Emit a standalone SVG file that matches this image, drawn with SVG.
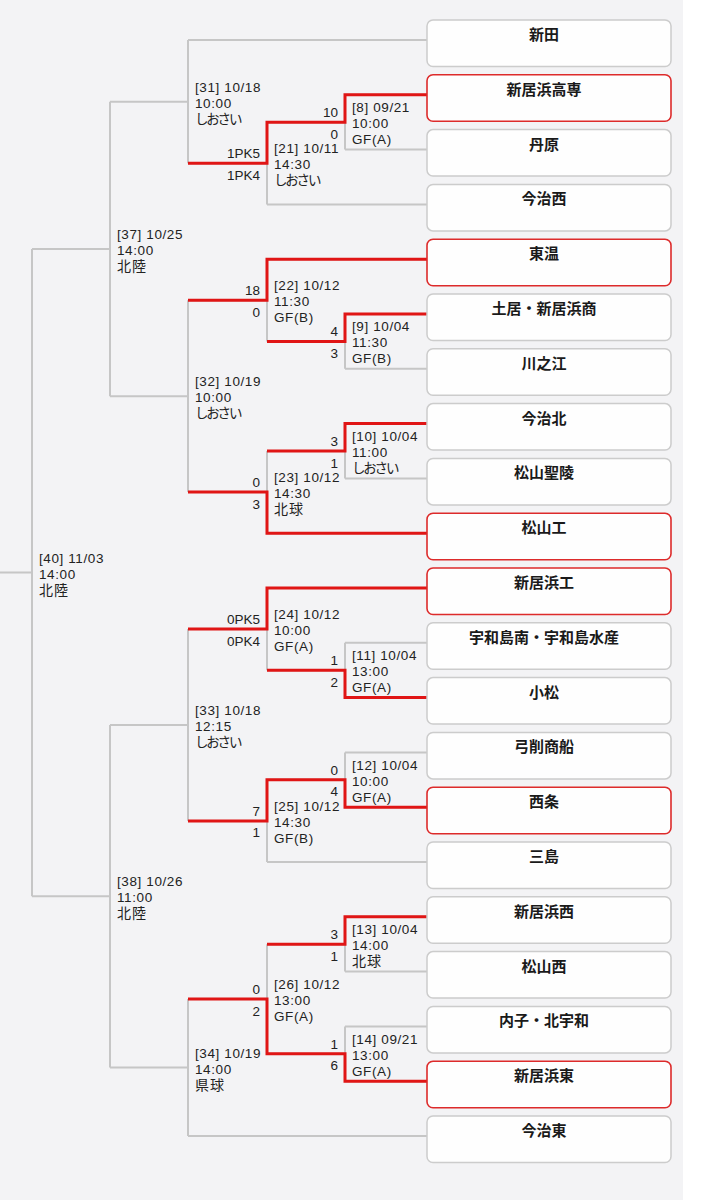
<svg xmlns="http://www.w3.org/2000/svg" width="701" height="1200" viewBox="0 0 701 1200">
<style>
.bg{fill:#f3f3f5}
.box{fill:#fefefe;stroke:#cccccc;stroke-width:1.5}
.win{fill:#fefefe;stroke:#dd2b2b;stroke-width:1.6}
.g{fill:none;stroke:#c6c6c6;stroke-width:2}
.r{fill:none;stroke:#e01515;stroke-width:3;stroke-linejoin:miter}
.nm{font-family:"Noto Sans CJK JP","Noto Sans CJK SC",sans-serif;font-size:15px;font-weight:bold;fill:#1a1a1a;text-anchor:middle}
.lb{font-family:"Liberation Sans","Noto Sans CJK JP",sans-serif;font-size:13.5px;fill:#222;letter-spacing:0.6px}
.kn{letter-spacing:-2.2px}
.kj{font-size:14px;letter-spacing:1px}
.sc{font-family:"Liberation Sans","Noto Sans CJK JP",sans-serif;font-size:13.5px;fill:#222;text-anchor:end}
</style>
<rect class="bg" x="0" y="0" width="683" height="1200"/>
<rect x="683" y="0" width="18" height="1200" fill="#ffffff"/>
<g id="connectors">
<path class="g" d="M188,40H427 M345,94.8H427 M345,149.6H427 M267,204.4H427 M267,259.2H427 M345,314H427 M345,368.8H427 M345,423.6H427 M345,478.4H427 M267,533.2H427 M267,588H427 M345,642.8H427 M345,697.6H427 M345,752.4H427 M345,807.2H427 M267,862H427 M345,916.8H427 M345,971.6H427 M345,1026.4H427 M345,1081.2H427 M188,1136H427"/>
<path class="g" d="M345,94.8V149.6 M267,122.2V204.4 M188,40V163.3 M345,314V368.8 M267,259.2V341.4 M345,423.6V478.4 M267,451V533.2 M188,300.3V492.1 M110,101.65V396.2 M345,642.8V697.6 M267,588V670.2 M345,752.4V807.2 M267,779.8V862 M188,629.1V820.9 M345,916.8V971.6 M345,1026.4V1081.2 M267,944.2V1053.8 M188,999V1136 M110,725V1067.5 M32,248.9V896.25"/>
<path class="g" d="M267,122.2H345 M188,163.3H267 M110,101.65H188 M267,341.4H345 M188,300.3H267 M267,451H345 M188,492.1H267 M110,396.2H188 M32,248.9H110 M267,670.2H345 M188,629.1H267 M267,779.8H345 M188,820.9H267 M110,725H188 M267,944.2H345 M267,1053.8H345 M188,999H267 M110,1067.5H188 M32,896.25H110 M0,572.6H32"/>
<path class="r" d="M427,94.8H345V122.2H267V163.3H188"/>
<path class="r" d="M427,259.2H267V300.3H188"/>
<path class="r" d="M427,314H345V341.4H267"/>
<path class="r" d="M427,423.6H345V451H267"/>
<path class="r" d="M427,533.2H267V492.1H188"/>
<path class="r" d="M427,588H267V629.1H188"/>
<path class="r" d="M427,697.6H345V670.2H267"/>
<path class="r" d="M427,807.2H345V779.8H267V820.9H188"/>
<path class="r" d="M427,916.8H345V944.2H267"/>
<path class="r" d="M427,1081.2H345V1053.8H267V999H188"/>
</g>
<g id="t0"><rect class="box" x="427" y="20" width="244" height="46.5" rx="6"/><text class="nm" x="544" y="40">新田</text></g>
<g id="t1"><rect class="win" x="427" y="74.8" width="244" height="46.5" rx="6"/><text class="nm" x="544" y="94.8">新居浜高専</text></g>
<g id="t2"><rect class="box" x="427" y="129.6" width="244" height="46.5" rx="6"/><text class="nm" x="544" y="149.6">丹原</text></g>
<g id="t3"><rect class="box" x="427" y="184.4" width="244" height="46.5" rx="6"/><text class="nm" x="544" y="204.4">今治西</text></g>
<g id="t4"><rect class="win" x="427" y="239.2" width="244" height="46.5" rx="6"/><text class="nm" x="544" y="259.2">東温</text></g>
<g id="t5"><rect class="box" x="427" y="294" width="244" height="46.5" rx="6"/><text class="nm" x="544" y="314">土居・新居浜商</text></g>
<g id="t6"><rect class="box" x="427" y="348.8" width="244" height="46.5" rx="6"/><text class="nm" x="544" y="368.8">川之江</text></g>
<g id="t7"><rect class="box" x="427" y="403.6" width="244" height="46.5" rx="6"/><text class="nm" x="544" y="423.6">今治北</text></g>
<g id="t8"><rect class="box" x="427" y="458.4" width="244" height="46.5" rx="6"/><text class="nm" x="544" y="478.4">松山聖陵</text></g>
<g id="t9"><rect class="win" x="427" y="513.2" width="244" height="46.5" rx="6"/><text class="nm" x="544" y="533.2">松山工</text></g>
<g id="t10"><rect class="win" x="427" y="568" width="244" height="46.5" rx="6"/><text class="nm" x="544" y="588">新居浜工</text></g>
<g id="t11"><rect class="box" x="427" y="622.8" width="244" height="46.5" rx="6"/><text class="nm" x="544" y="642.8">宇和島南・宇和島水産</text></g>
<g id="t12"><rect class="box" x="427" y="677.6" width="244" height="46.5" rx="6"/><text class="nm" x="544" y="697.6">小松</text></g>
<g id="t13"><rect class="box" x="427" y="732.4" width="244" height="46.5" rx="6"/><text class="nm" x="544" y="752.4">弓削商船</text></g>
<g id="t14"><rect class="win" x="427" y="787.2" width="244" height="46.5" rx="6"/><text class="nm" x="544" y="807.2">西条</text></g>
<g id="t15"><rect class="box" x="427" y="842" width="244" height="46.5" rx="6"/><text class="nm" x="544" y="862">三島</text></g>
<g id="t16"><rect class="box" x="427" y="896.8" width="244" height="46.5" rx="6"/><text class="nm" x="544" y="916.8">新居浜西</text></g>
<g id="t17"><rect class="box" x="427" y="951.6" width="244" height="46.5" rx="6"/><text class="nm" x="544" y="971.6">松山西</text></g>
<g id="t18"><rect class="box" x="427" y="1006.4" width="244" height="46.5" rx="6"/><text class="nm" x="544" y="1026.4">内子・北宇和</text></g>
<g id="t19"><rect class="win" x="427" y="1061.2" width="244" height="46.5" rx="6"/><text class="nm" x="544" y="1081.2">新居浜東</text></g>
<g id="t20"><rect class="box" x="427" y="1116" width="244" height="46.5" rx="6"/><text class="nm" x="544" y="1136">今治東</text></g>

<g id="m8"><text class="lb" x="352" y="112.2">[8] 09/21</text><text class="lb" x="352" y="128.2">10:00</text><text class="lb" x="352" y="144.2">GF(A)</text><text class="sc" x="338" y="117.2">10</text><text class="sc" x="338" y="138.7">0</text></g>
<g id="m21"><text class="lb" x="274" y="153.3">[21] 10/11</text><text class="lb" x="274" y="169.3">14:30</text><text class="lb kn" x="274" y="185.3">しおさい</text><text class="sc" x="260" y="158.3">1PK5</text><text class="sc" x="260" y="179.8">1PK4</text></g>
<g id="m31"><text class="lb" x="195" y="91.65">[31] 10/18</text><text class="lb" x="195" y="107.65">10:00</text><text class="lb kn" x="195" y="123.65">しおさい</text></g>
<g id="m9"><text class="lb" x="352" y="331.4">[9] 10/04</text><text class="lb" x="352" y="347.4">11:30</text><text class="lb" x="352" y="363.4">GF(B)</text><text class="sc" x="338" y="336.4">4</text><text class="sc" x="338" y="357.9">3</text></g>
<g id="m22"><text class="lb" x="274" y="290.3">[22] 10/12</text><text class="lb" x="274" y="306.3">11:30</text><text class="lb" x="274" y="322.3">GF(B)</text><text class="sc" x="260" y="295.3">18</text><text class="sc" x="260" y="316.8">0</text></g>
<g id="m10"><text class="lb" x="352" y="441">[10] 10/04</text><text class="lb" x="352" y="457">11:00</text><text class="lb kn" x="352" y="473">しおさい</text><text class="sc" x="338" y="446">3</text><text class="sc" x="338" y="467.5">1</text></g>
<g id="m23"><text class="lb" x="274" y="482.1">[23] 10/12</text><text class="lb" x="274" y="498.1">14:30</text><text class="lb kj" x="274" y="514.1">北球</text><text class="sc" x="260" y="487.1">0</text><text class="sc" x="260" y="508.6">3</text></g>
<g id="m32"><text class="lb" x="195" y="386.2">[32] 10/19</text><text class="lb" x="195" y="402.2">10:00</text><text class="lb kn" x="195" y="418.2">しおさい</text></g>
<g id="m37"><text class="lb" x="117" y="238.9">[37] 10/25</text><text class="lb" x="117" y="254.9">14:00</text><text class="lb kj" x="117" y="270.9">北陸</text></g>
<g id="m40"><text class="lb" x="39" y="562.6">[40] 11/03</text><text class="lb" x="39" y="578.6">14:00</text><text class="lb kj" x="39" y="594.6">北陸</text></g>
<g id="m24"><text class="lb" x="274" y="619.1">[24] 10/12</text><text class="lb" x="274" y="635.1">10:00</text><text class="lb" x="274" y="651.1">GF(A)</text><text class="sc" x="260" y="624.1">0PK5</text><text class="sc" x="260" y="645.6">0PK4</text></g>
<g id="m11"><text class="lb" x="352" y="660.2">[11] 10/04</text><text class="lb" x="352" y="676.2">13:00</text><text class="lb" x="352" y="692.2">GF(A)</text><text class="sc" x="338" y="665.2">1</text><text class="sc" x="338" y="686.7">2</text></g>
<g id="m33"><text class="lb" x="195" y="715">[33] 10/18</text><text class="lb" x="195" y="731">12:15</text><text class="lb kn" x="195" y="747">しおさい</text></g>
<g id="m12"><text class="lb" x="352" y="769.8">[12] 10/04</text><text class="lb" x="352" y="785.8">10:00</text><text class="lb" x="352" y="801.8">GF(A)</text><text class="sc" x="338" y="774.8">0</text><text class="sc" x="338" y="796.3">4</text></g>
<g id="m25"><text class="lb" x="274" y="810.9">[25] 10/12</text><text class="lb" x="274" y="826.9">14:30</text><text class="lb" x="274" y="842.9">GF(B)</text><text class="sc" x="260" y="815.9">7</text><text class="sc" x="260" y="837.4">1</text></g>
<g id="m38"><text class="lb" x="117" y="886.25">[38] 10/26</text><text class="lb" x="117" y="902.25">11:00</text><text class="lb kj" x="117" y="918.25">北陸</text></g>
<g id="m13"><text class="lb" x="352" y="934.2">[13] 10/04</text><text class="lb" x="352" y="950.2">14:00</text><text class="lb kj" x="352" y="966.2">北球</text><text class="sc" x="338" y="939.2">3</text><text class="sc" x="338" y="960.7">1</text></g>
<g id="m26"><text class="lb" x="274" y="989">[26] 10/12</text><text class="lb" x="274" y="1005">13:00</text><text class="lb" x="274" y="1021">GF(A)</text><text class="sc" x="260" y="994">0</text><text class="sc" x="260" y="1015.5">2</text></g>
<g id="m14"><text class="lb" x="352" y="1043.8">[14] 09/21</text><text class="lb" x="352" y="1059.8">13:00</text><text class="lb" x="352" y="1075.8">GF(A)</text><text class="sc" x="338" y="1048.8">1</text><text class="sc" x="338" y="1070.3">6</text></g>
<g id="m34"><text class="lb" x="195" y="1057.5">[34] 10/19</text><text class="lb" x="195" y="1073.5">14:00</text><text class="lb kj" x="195" y="1089.5">県球</text></g>
</svg>
